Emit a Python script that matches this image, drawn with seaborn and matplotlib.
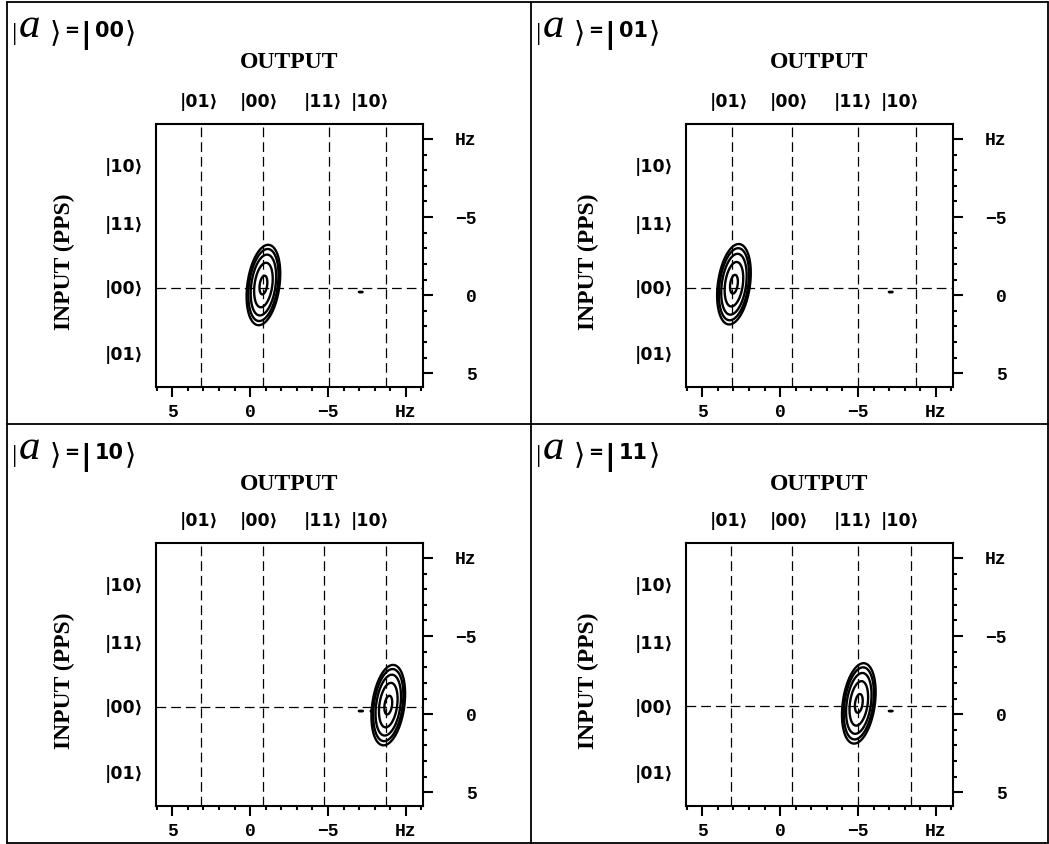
import numpy as np
import matplotlib
matplotlib.use("Agg")
import matplotlib.pyplot as plt
from matplotlib.lines import Line2D
from matplotlib.ticker import MultipleLocator
import seaborn as sns

W, H = 1049, 844

# ---------------------------------------------------------------- data
states = ["|01⟩", "|00⟩", "|11⟩", "|10⟩"]
panel_states = ["00", "01", "10", "11"]

# output-frequency reference lines (Hz) for each state, one row per panel
out_lines = [
    [3.18, -0.81, -5.04, -8.74],
    [3.08, -0.79, -5.03, -8.70],
    [3.18, -0.81, -4.76, -8.72],
    [3.14, -0.77, -5.00, -8.40],
]
# input |00> reference line (Hz), one per panel
in_line = [-0.49, -0.49, -0.47, -0.50]

# where the state names sit along each axis (Hz)
out_label_hz = [3.3, -0.55, -4.7, -7.7]
in_label_hz = [3.7, -0.5, -4.6, -8.35]

# 2D peak of each spectrum: output Hz, input Hz
peak_x = [-0.85, 2.97, -8.87, -5.05]
peak_y = [-0.65, -0.70, -0.58, -0.69]
sigma_major = 1.06
sigma_minor = 0.42
tilt_deg = 8.0

# weak residual signal
resid_x, resid_y, resid_amp = -7.1, -0.2, 0.053

levels = [0.05, 0.09, 0.18, 0.40, 0.85]

x_ticks = [5, 0, -5, -10]
x_tick_labels = ["5", "0", "−5", "Hz"]
y_ticks = [-10, -5, 0, 5]
y_tick_labels = ["Hz", "−5", "0", "5"]
x_range = (6.05, -11.1)
y_range = (5.88, -10.96)

# ---------------------------------------------------------------- style
sns.set_theme(style="white")
plt.rcParams.update({
    "lines.scale_dashes": False,
    "text.color": "black",
    "axes.edgecolor": "black",
    "xtick.color": "black",
    "ytick.color": "black",
    "xtick.labelcolor": "black",
    "ytick.labelcolor": "black",
})
plt.rcParams["font.family"] = ["DejaVu Sans"]

fig = plt.figure(figsize=(W / 100, H / 100), dpi=100)
fig.patch.set_facecolor("white")


def fx(x):
    return x / W


def fy(y):
    return 1 - y / H


gx = np.linspace(-11.5, 6.5, 900)
gy = np.linspace(-11.5, 6.5, 900)
GX, GY = np.meshgrid(gx, gy)


def spectrum(cx, cy):
    t = np.deg2rad(tilt_deg)
    dx, dy = GX - cx, GY - cy
    u = dx * np.sin(t) + dy * np.cos(t)
    v = dx * np.cos(t) - dy * np.sin(t)
    z = np.exp(-(u ** 2 / (2 * sigma_major ** 2) + v ** 2 / (2 * sigma_minor ** 2)))
    z += resid_amp * np.exp(-((GX - resid_x) ** 2 / (2 * 0.4 ** 2)
                              + (GY - resid_y) ** 2 / (2 * 0.05 ** 2)))
    return z


col_frame = [7, 531]
row_frame = [2, 424]
col_ax = [156, 686]
row_ax = [124, 543]
ax_w, ax_h = 267, 263

mono = "Liberation Mono"
serif = "Liberation Serif"
state_font = ["DejaVu Sans"]

for i in range(4):
    r, c = divmod(i, 2)
    left, top = col_ax[c], row_ax[r]
    ax = fig.add_axes([fx(left), fy(top + ax_h), ax_w / W, ax_h / H])
    ax.set_facecolor("white")

    z = spectrum(peak_x[i], peak_y[i])
    ax.contour(gx, gy, z, levels=levels, colors="black", linewidths=1.7, zorder=3)

    for xv in out_lines[i]:
        ax.axvline(xv, color="black", lw=0.9, dashes=(7, 3.6), zorder=2)
    ax.axhline(in_line[i], color="black", lw=0.9, dashes=(7, 3.6), zorder=2)

    ax.set_xlim(*x_range)
    ax.set_ylim(*y_range)

    for s in ax.spines.values():
        s.set_visible(True)
        s.set_color("black")
        s.set_linewidth(1.5)

    ax.yaxis.tick_right()
    ax.set_xticks(x_ticks)
    ax.set_xticklabels(x_tick_labels, fontfamily=mono, fontweight="bold", fontsize=13)
    ax.set_yticks(y_ticks)
    ax.set_yticklabels(y_tick_labels, fontfamily=mono, fontweight="bold", fontsize=13,
                       ha="right")
    ax.xaxis.set_minor_locator(MultipleLocator(1))
    ax.yaxis.set_minor_locator(MultipleLocator(1))
    ax.tick_params(which="both", direction="out", color="black", width=1.5,
                   bottom=True, top=False, left=False, right=True, labelcolor="black")
    ax.tick_params(which="major", length=7.5)
    ax.tick_params(which="minor", length=3.2)
    ax.tick_params(axis="x", which="major", pad=5)
    ax.tick_params(axis="y", which="major", pad=31)
    ax.grid(False)

    top_ax = ax.secondary_xaxis("top")
    top_ax.set_xticks(out_label_hz)
    top_ax.set_xticklabels(states, fontfamily=state_font, fontweight="bold", fontsize=12.5)
    top_ax.tick_params(length=0, pad=9)
    top_ax.spines["top"].set_visible(False)

    left_ax = ax.secondary_yaxis("left")
    left_ax.set_yticks(in_label_hz)
    left_ax.set_yticklabels(states, fontfamily=state_font, fontweight="bold", fontsize=12.5)
    left_ax.tick_params(length=0, pad=9)
    left_ax.spines["left"].set_visible(False)

    # axis titles
    fig.text(fx(left + ax_w / 2), fy(row_frame[r] + 60), "OUTPUT", ha="center", va="center",
             fontfamily=serif, fontweight="bold", fontsize=17)
    fig.text(fx(col_frame[c] + 57), fy(top + 138), "INPUT (PPS)", ha="center", va="center",
             rotation=90, fontfamily=serif, fontweight="bold", fontsize=17)

    # panel label |a> = |xy>
    x0, base = col_frame[c], row_frame[r] + 35
    fig.text(fx(x0 + 5), fy(base + 3), "|", ha="left", va="baseline",
             fontfamily=serif, fontsize=19)
    fig.text(fx(x0 + 12), fy(base), "a", ha="left", va="baseline",
             fontfamily=serif, fontstyle="italic", fontsize=31)
    fig.text(fx(x0 + 43), fy(base + 4), "⟩", ha="left", va="baseline",
             fontfamily="DejaVu Sans", fontsize=21)
    fig.text(fx(x0 + 57), fy(base - 1), "=", ha="left", va="baseline",
             fontfamily="DejaVu Sans", fontweight="bold", fontsize=13)
    fig.text(fx(x0 + 73), fy(base + 6), "|", ha="left", va="baseline",
             fontfamily="DejaVu Sans", fontweight="bold", fontsize=21)
    fig.text(fx(x0 + 88), fy(base), panel_states[i], ha="left", va="baseline",
             fontfamily="DejaVu Sans", fontweight="bold", fontsize=15)
    fig.text(fx(x0 + 118), fy(base + 4), "⟩", ha="left", va="baseline",
             fontfamily="DejaVu Sans", fontsize=21)

# panel frames
frame = dict(color="black", lw=1.3, transform=fig.transFigure)
for (x1, y1, x2, y2) in [(7, 2, 1048, 2), (7, 843, 1048, 843), (7, 2, 7, 843),
                         (1048, 2, 1048, 843), (531, 2, 531, 843), (7, 424, 1048, 424)]:
    fig.add_artist(Line2D([fx(x1), fx(x2)], [fy(y1), fy(y2)], **frame))

fig.savefig("out.png", dpi=100, facecolor="white")
